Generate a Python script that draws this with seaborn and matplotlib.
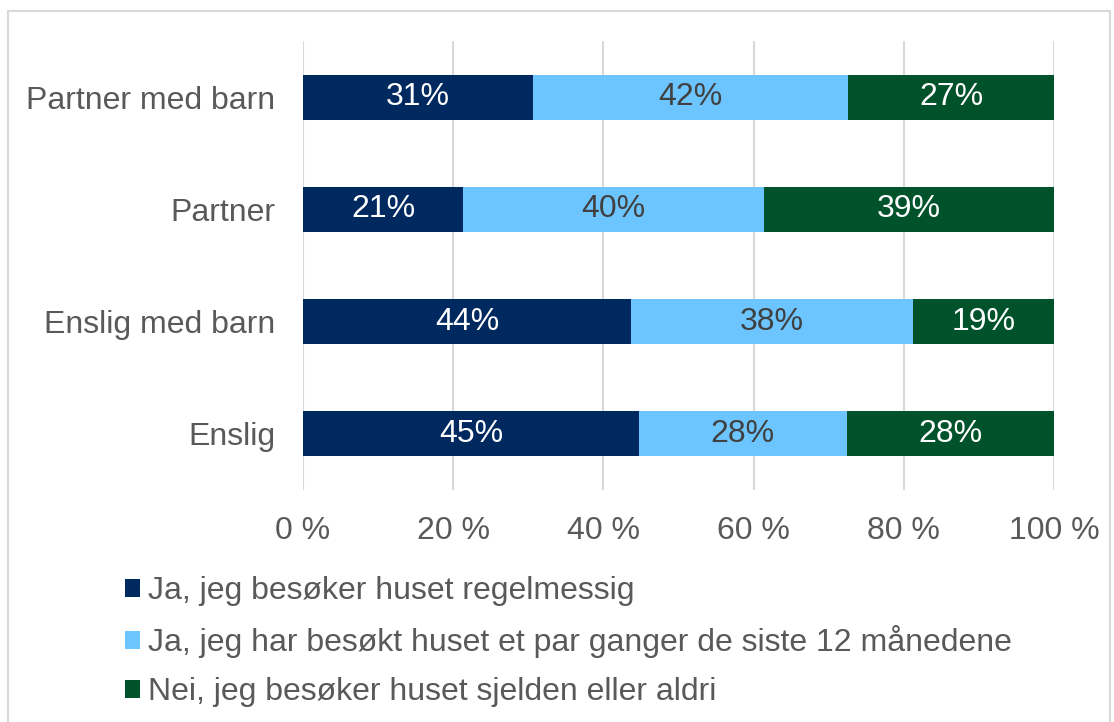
import matplotlib
matplotlib.use("Agg")
import matplotlib.pyplot as plt
import seaborn as sns
import pandas as pd
from matplotlib.patches import Patch, Rectangle

categories = ["Partner med barn", "Partner", "Enslig med barn", "Enslig"]
series_names = [
    "Ja, jeg besøker huset regelmessig",
    "Ja, jeg har besøkt huset et par ganger de siste 12 månedene",
    "Nei, jeg besøker huset sjelden eller aldri",
]
regular = [30.6, 21.3, 43.7, 44.7]
some = [42.0, 40.1, 37.5, 27.7]
rarely = [27.4, 38.6, 18.8, 27.6]
labels_regular = ["31%", "21%", "44%", "45%"]
labels_some = ["42%", "40%", "38%", "28%"]
labels_rarely = ["27%", "39%", "19%", "28%"]
xticks = [0, 20, 40, 60, 80, 100]
xticklabels = ["0 %", "20 %", "40 %", "60 %", "80 %", "100 %"]

colors = ["#002960", "#6CC5FF", "#00522B"]
text_colors = ["white", "#404040", "white"]

sns.set_style("white")
plt.rcParams["font.family"] = ["Liberation Sans", "DejaVu Sans"]

W, H = 1114, 722
fig = plt.figure(figsize=(W / 100, H / 100), dpi=100)
ax = fig.add_axes([303 / W, 1 - 490 / H, (1054 - 303) / W, (490 - 41) / H])

df = pd.DataFrame({"cat": categories, "a": regular, "b": some, "c": rarely})
df["ab"] = df["a"] + df["b"]
df["abc"] = df["ab"] + df["c"]

for col, colr in [("abc", colors[2]), ("ab", colors[1]), ("a", colors[0])]:
    sns.barplot(data=df, x=col, y="cat", orient="h", color=colr, width=0.4,
                saturation=1, ax=ax, zorder=3, linewidth=0)

starts = [[0] * 4, list(df["a"]), list(df["ab"])]
vals = [regular, some, rarely]
labs = [labels_regular, labels_some, labels_rarely]
for s in range(3):
    for i in range(4):
        ax.text(starts[s][i] + vals[s][i] / 2, i, labs[s][i], ha="center", va="center",
                color=text_colors[s], fontsize=23, zorder=5)

ax.set_xlim(0, 100)
ax.set_ylim(3.5, -0.5)
ax.set_xticks(xticks)
ax.set_xticklabels(xticklabels)
ax.set_xlabel("")
ax.set_ylabel("")
ax.tick_params(axis="x", length=0, pad=19, labelsize=23, labelcolor="#595959")
ax.tick_params(axis="y", length=0, pad=20, labelsize=23, labelcolor="#595959")
ax.grid(axis="x", color="#D9D9D9", linewidth=1.5, zorder=0)
ax.set_axisbelow(True)
for sp in ax.spines.values():
    sp.set_visible(False)

handles = [Patch(facecolor=c, edgecolor="none") for c in colors]
fig.legend(handles, series_names, loc="upper left",
           bbox_to_anchor=(125 / W, 1 - 576 / H), frameon=False,
           fontsize=23, labelcolor="#595959", handlelength=0.48, handleheight=0.48,
           handletextpad=0.25, labelspacing=0.6, borderaxespad=0, borderpad=0)

fig.patches.append(Rectangle((8 / W, -0.1), (1110 - 8) / W, 1.1 - 11 / H,
                             transform=fig.transFigure, fill=False,
                             edgecolor="#D9D9D9", linewidth=1.5))

fig.savefig("out.png", dpi=100)
